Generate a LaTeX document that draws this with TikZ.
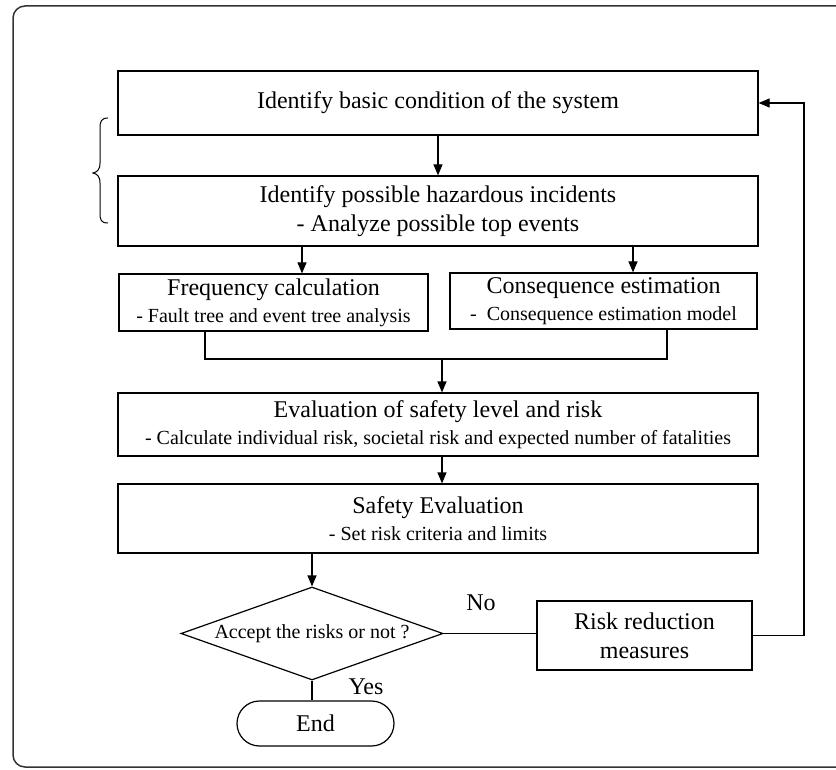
\documentclass[tikz,border=0pt]{standalone}
\usepackage{fontspec}
\setmainfont{Liberation Serif}
\usetikzlibrary{arrows.meta,shapes.geometric,shapes.misc}
\newcommand\subf{\fontsize{20}{24}\selectfont}
\begin{document}
\begin{tikzpicture}[x=1pt,y=-1pt,
  box/.style={draw, line width=1.2pt, inner sep=0pt, align=center, font=\fontsize{24}{29}\selectfont},
  arr/.style={-{Triangle[length=11pt,width=9pt]}, line width=1.2pt},
  ln/.style={line width=1.2pt},
  lbl/.style={font=\fontsize{24}{29}\selectfont, inner sep=0pt}]
\useasboundingbox (0,0) rectangle (836,770);
\draw[line width=1.5pt, rounded corners=12pt, black!80] (13,6) rectangle (860,767);

\node[box, minimum width=640, minimum height=64] (b1) at (438,103) {Identify basic condition of the system};
\node[box, minimum width=640, minimum height=70] (b2) at (438,211) {Identify possible hazardous incidents\\- Analyze possible top events};
\node[box, minimum width=309, minimum height=57] (fr) at (273.5,302.5) {Frequency calculation\\[-2pt]{\subf - Fault tree and event tree analysis}};
\node[box, minimum width=307, minimum height=56] (co) at (603.5,301) {Consequence estimation\\[-2pt]{\subf -\ \ Consequence estimation model}};
\node[box, minimum width=640, minimum height=63] (ev) at (438,424.5) {Evaluation of safety level and risk\\[-2pt]{\subf - Calculate individual risk, societal risk and expected number of fatalities}};
\node[box, minimum width=640, minimum height=69] (sf) at (438,518.5) {Safety Evaluation\\[-2pt]{\subf - Set risk criteria and limits}};
\node[box, diamond, aspect=2.8, minimum width=262, minimum height=93, font=\subf] (dia) at (312,633.5) {Accept the risks or not ?};
\node[box, minimum width=215, minimum height=69] (rk) at (644.5,635.5) {Risk reduction\\measures};
\node[box, rounded rectangle, minimum width=157, minimum height=45] (en) at (315.5,723.5) {End};
\node[lbl] (no) at (481,603) {No};
\node[lbl] (yes) at (366,687) {Yes};

\coordinate (fa) at (302,0);
\coordinate (ca) at (633,0);
\coordinate (m1) at (205,359);
\coordinate (m2) at (667,359);
\coordinate (mj) at (442,359);
\coordinate (fb) at (804,0);

\draw[arr] (b1.south) -- (b2.north);
\draw[arr] (b2.south -| fa) -- (fr.north -| fa);
\draw[arr] (b2.south -| ca) -- (co.north -| ca);
\draw[ln] (fr.south -| m1) -- (m1) -- (m2) -- (co.south -| m2);
\draw[arr] (mj) -- (ev.north -| mj);
\draw[arr] (ev.south -| mj) -- (sf.north -| mj);
\draw[arr] (sf.south -| dia.north) -- (dia.north);
\draw[ln] (dia.east) -- (rk.west |- dia.east);
\draw[arr] (rk.east) -- (rk.east -| fb) |- (b1.east);
\draw[ln] (dia.south) -- (en.north -| dia.south);

\draw[line width=1pt] (108,118) .. controls (101,118) and (100,122) .. (100,128) -- (100,163)
  .. controls (100,170) and (97,172) .. (93,173)
  .. controls (97,174) and (100,176) .. (100,183) -- (100,213)
  .. controls (100,220) and (101,223) .. (108,223);
\end{tikzpicture}
\end{document}
